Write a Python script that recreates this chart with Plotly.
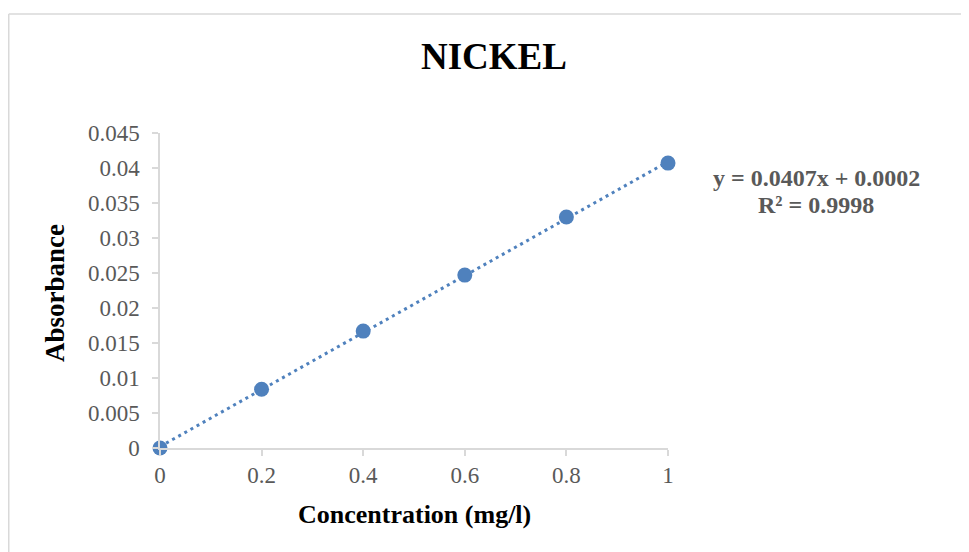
import plotly.graph_objects as go

# ---- data ----
concentration = [0, 0.2, 0.4, 0.6, 0.8, 1.0]
absorbance = [0.0, 0.0084, 0.0167, 0.0247, 0.0330, 0.0407]
trend_slope = 0.0407
trend_intercept = 0.0002
r_squared = 0.9998
x_ticks = [0, 0.2, 0.4, 0.6, 0.8, 1]
x_tick_labels = ["0", "0.2", "0.4", "0.6", "0.8", "1"]
y_ticks = [0, 0.005, 0.01, 0.015, 0.02, 0.025, 0.03, 0.035, 0.04, 0.045]
y_tick_labels = ["0", "0.005", "0.01", "0.015", "0.02", "0.025", "0.03", "0.035", "0.04", "0.045"]

FONT = "Liberation Serif, Times New Roman, serif"
BLUE = "#4f81bd"
GRID = "#d9d9d9"
TXT = "#595959"

trend_x = [min(concentration), max(concentration)]
trend_y = [trend_slope * v + trend_intercept for v in trend_x]

fig = go.Figure()
fig.add_trace(go.Scatter(x=trend_x, y=trend_y, mode="lines",
                         line=dict(color=BLUE, width=3, dash="3px,4px"),
                         cliponaxis=False, showlegend=False, hoverinfo="skip"))
fig.add_trace(go.Scatter(x=concentration, y=absorbance, mode="markers",
                         marker=dict(color=BLUE, size=15),
                         cliponaxis=False, showlegend=False))

OFF = 8  # page body margin
W, H = 969 - OFF, 552 - OFF
L, R, T, B = 160 - OFF, 301, 133 - OFF, 104
pw, ph = W - L - R, H - T - B

def px(x):
    return (x - OFF - L) / pw

def py(y):
    return (H - B - (y - OFF)) / ph

fig.update_layout(
    width=W, height=H,
    margin=dict(l=L, r=R, t=T, b=B, autoexpand=False),
    paper_bgcolor="white", plot_bgcolor="white",
    font=dict(family=FONT, color=TXT),
    title=dict(text="<b>NICKEL</b>", x=(494 - OFF) / W, y=1 - (56 - OFF) / H,
               xanchor="center", yanchor="middle",
               font=dict(family=FONT, size=37, color="black")),
    xaxis=dict(range=[0, 1], tickvals=x_ticks, ticktext=x_tick_labels,
               showgrid=False, zeroline=False, showline=True,
               linecolor=GRID, linewidth=1.5, ticks="outside", ticklen=6,
               tickcolor=GRID, tickwidth=1.5,
               tickfont=dict(family=FONT, size=23, color=TXT)),
    yaxis=dict(range=[0, 0.045], tickvals=y_ticks, ticktext=y_tick_labels,
               showgrid=False, zeroline=False, showline=True,
               linecolor=GRID, linewidth=1.5, ticks="outside", ticklen=6,
               tickcolor=GRID, tickwidth=1.5, ticklabelstandoff=8,
               tickfont=dict(family=FONT, size=23, color=TXT)),
    shapes=[
        dict(type="line", xref="paper", yref="paper", x0=px(8.75), x1=px(1200),
             y0=py(14), y1=py(14), line=dict(color=GRID, width=1.5)),
        dict(type="line", xref="paper", yref="paper", x0=px(8.75), x1=px(8.75),
             y0=py(14), y1=py(800), line=dict(color=GRID, width=1.5)),
    ],
    annotations=[
        dict(text="<b>Concentration (mg/l)</b>", xref="paper", yref="paper",
             x=px(414), y=py(514), xanchor="center", yanchor="middle",
             showarrow=False, font=dict(family=FONT, size=26, color="black")),
        dict(text="<b>Absorbance</b>", xref="paper", yref="paper",
             x=px(55), y=py(293), xanchor="center", yanchor="middle",
             textangle=-90, showarrow=False,
             font=dict(family=FONT, size=27, color="black")),
        dict(text="<b>y = %.4fx + %.4f</b>" % (trend_slope, trend_intercept),
             xref="paper", yref="paper", x=px(816), y=py(178),
             xanchor="center", yanchor="middle", showarrow=False,
             font=dict(family=FONT, size=24, color=TXT)),
        dict(text="<b>R² = %.4f</b>" % r_squared,
             xref="paper", yref="paper", x=px(816), y=py(205),
             xanchor="center", yanchor="middle", showarrow=False,
             font=dict(family=FONT, size=24, color=TXT)),
    ],
)

fig.write_html("out.html")
